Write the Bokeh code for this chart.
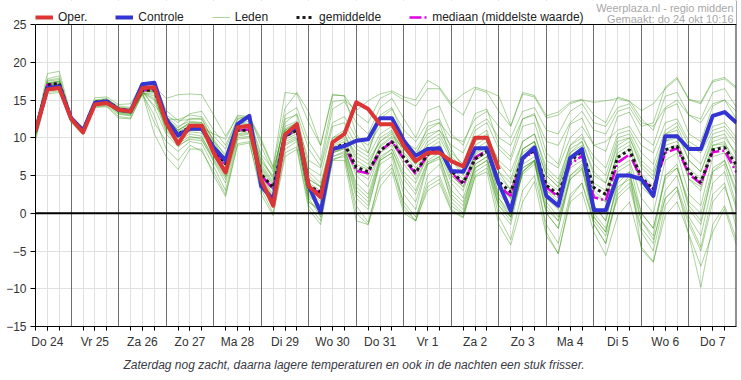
from bokeh.plotting import figure
from bokeh.models import (Range1d, FixedTicker, Grid, Span, Label, Legend, LegendItem,
                          BoxAnnotation, Title)
from bokeh.embed import file_html
from bokeh.resources import INLINE

# ---------------- data ----------------
# time axis: hours since Thu 24 Oct 00:00, 6-hourly from 06:00 to Fri 8 Nov 00:00
hours = list(range(6, 361, 6))
day_names = ["Do 24", "Vr 25", "Za 26", "Zo 27", "Ma 28", "Di 29", "Wo 30", "Do 31",
             "Vr 1", "Za 2", "Zo 3", "Ma 4", "Di 5", "Wo 6", "Do 7"]
y_ticks = [-15, -10, -5, 0, 5, 10, 15, 20, 25]

oper = [10.9, 16.4, 16.6, 12.5, 10.7, 14.4, 14.6, 13.7, 13.5, 16.6, 16.7, 12.0, 9.2, 11.6, 11.6,
        8.0, 5.4, 11.4, 11.6, 4.4, 1.0, 10.4, 11.8, 3.6, 2.1, 9.4, 10.5, 14.7, 13.8, 11.8, 11.8,
        8.9, 6.9, 8.0, 8.0, 6.9, 6.2, 10.0, 10.0, 5.8]

controle = [10.9, 16.6, 16.8, 12.6, 10.9, 14.6, 14.8, 13.7, 13.5, 17.1, 17.3, 12.5, 10.3, 11.2, 11.2,
            8.7, 7.0, 11.8, 12.9, 3.6, 1.8, 10.3, 11.6, 3.6, 0.1, 8.5, 8.9, 9.6, 9.8, 12.6, 12.6,
            9.6, 7.6, 8.5, 8.6, 5.6, 5.5, 8.6, 8.6, 3.9, 0.3, 7.3, 8.7, 2.3, 1.0, 7.3, 8.5,
            0.4, 0.4, 5.0, 5.0, 4.5, 2.3, 10.2, 10.2, 8.5, 8.5, 12.9, 13.4, 12.0]

gemiddelde = [10.9, 17.0, 17.2, 12.6, 11.0, 14.7, 14.9, 13.8, 13.6, 16.3, 16.3, 12.0, 10.5, 11.4, 11.2,
              8.5, 6.5, 11.0, 11.0, 5.2, 3.4, 10.2, 11.0, 3.6, 2.8, 8.5, 9.2, 6.1, 5.5, 8.3, 9.5,
              7.4, 5.4, 7.8, 8.6, 5.6, 4.0, 7.2, 8.2, 4.2, 2.8, 7.4, 8.3, 3.7, 2.5, 6.9, 8.2,
              3.4, 2.5, 7.4, 8.4, 4.7, 3.2, 8.4, 8.9, 5.5, 4.1, 8.4, 8.7, 6.4]

mediaan = [10.9, 17.0, 17.2, 12.6, 11.0, 14.7, 14.9, 13.8, 13.6, 16.3, 16.4, 12.1, 10.4, 11.4, 11.2,
           8.4, 6.3, 11.0, 11.1, 5.0, 3.2, 10.2, 11.0, 3.4, 2.7, 8.4, 9.0, 5.6, 5.3, 8.2, 9.5,
           7.2, 5.2, 7.8, 8.7, 5.4, 3.8, 7.4, 8.3, 3.6, 2.3, 7.2, 8.2, 3.4, 2.2, 6.5, 7.6,
           2.1, 1.7, 6.7, 7.8, 4.5, 3.2, 8.0, 8.6, 5.2, 3.9, 8.1, 8.3, 5.4]

# ensemble members (leden)
m01 = [11.2, 17.8, 18.2, 12.8, 11.3, 15.0, 15.2, 14.0, 13.9, 16.8, 16.9, 15.2, 15.7, 15.8, 15.7,
       13.0, 10.2, 12.8, 12.6, 9.5, 6.0, 13.9, 16.0, 13.4, 9.0, 15.6, 15.6, 13.2, 12.0, 15.2, 16.0,
       15.0, 14.2, 16.5, 16.5, 14.2, 13.0, 16.5, 16.0, 13.5, 11.5, 15.8, 15.4, 12.6, 13.0, 14.5, 15.0,
       14.7, 14.9, 15.2, 14.8, 13.6, 14.5, 16.5, 17.8, 15.0, 14.5, 17.4, 17.8, 16.5]
m02 = [10.6, 16.8, 17.0, 12.4, 10.8, 14.4, 14.7, 13.5, 13.2, 16.0, 14.3, 12.5, 12.4, 13.0, 12.8,
       10.2, 8.5, 12.5, 13.0, 8.8, 5.5, 12.0, 13.2, 8.5, 6.2, 13.8, 14.8, 12.0, 10.5, 14.0, 15.2,
       12.5, 10.0, 13.6, 14.2, 10.5, 9.0, 13.2, 13.8, 9.0, 7.5, 12.5, 13.2, 8.0, 6.5, 11.8, 12.6,
       9.0, 8.2, 12.8, 13.4, 10.2, 9.0, 13.8, 14.5, 10.5, 9.5, 14.2, 15.0, 12.5]
m03 = [10.2, 16.5, 16.8, 12.2, 10.5, 14.3, 14.5, 13.2, 13.0, 15.9, 15.8, 11.0, 9.5, 10.5, 10.2,
       7.0, 4.5, 10.2, 10.5, 3.5, 1.0, 9.8, 10.5, 1.5, 0.2, 7.5, 8.0, 2.0, 0.5, 7.0, 8.0,
       2.5, 0.5, 6.5, 7.2, 1.5, 0.0, 6.0, 7.0, 0.5, -1.5, 5.5, 6.8, 0.0, -2.0, 5.0, 6.2,
       -0.5, -2.5, 4.5, 5.5, -1.0, -3.0, 5.0, 6.5, 0.5, -1.5, 5.5, 6.5, 1.0]
m04 = [11.0, 17.2, 17.4, 12.7, 11.2, 14.9, 15.0, 13.9, 13.7, 16.5, 16.4, 12.6, 11.0, 12.0, 12.0,
       9.8, 7.5, 11.8, 12.2, 7.5, 4.5, 13.0, 14.0, 9.5, 7.0, 14.8, 15.0, 13.6, 14.9, 15.8, 16.2,
       15.4, 15.0, 17.6, 16.7, 14.5, 15.8, 16.7, 16.2, 15.5, 11.6, 16.0, 15.6, 12.9, 13.4, 14.7, 15.1,
       13.0, 12.0, 15.4, 14.9, 12.5, 11.0, 15.5, 16.0, 13.0, 12.5, 16.0, 16.5, 14.0]
m05 = [10.9, 17.1, 17.3, 12.6, 11.0, 14.6, 14.8, 13.8, 13.5, 16.2, 16.4, 12.3, 10.8, 11.6, 11.4,
       8.8, 6.8, 11.3, 11.5, 6.0, 3.8, 10.6, 11.4, 4.0, 3.0, 9.0, 9.8, 6.5, 5.8, 8.8, 10.0,
       7.8, 6.0, 8.2, 9.0, 6.0, 4.5, 7.8, 8.8, 4.8, 3.2, 8.0, 9.0, 4.2, 3.0, 7.5, 8.8,
       4.0, 3.0, 8.0, 9.0, 5.2, 3.6, 9.0, 9.5, 6.0, 4.5, 9.0, 9.2, 7.0]
m06 = [10.5, 16.2, 16.4, 12.3, 10.7, 14.2, 14.3, 13.1, 12.9, 15.9, 12.0, 9.5, 8.2, 9.5, 9.2,
       6.2, 3.0, 9.8, 10.0, 4.0, 1.5, 8.5, 9.5, 2.0, -0.5, 7.2, 7.5, 1.0, -1.2, 4.5, 6.0,
       1.5, -0.5, 4.0, 5.0, 1.0, -0.2, 5.5, 6.5, -0.5, -3.5, 3.0, 5.0, -1.5, -4.0, 2.5, 4.0,
       -1.0, -3.0, 2.0, 3.5, -2.5, -5.0, 2.0, 3.5, -1.0, -4.5, 2.5, 4.0, -2.0]
m07 = [11.3, 18.5, 18.8, 12.9, 11.4, 15.3, 15.4, 14.4, 14.5, 17.3, 17.4, 13.6, 12.3, 12.4, 12.6,
       9.5, 7.8, 12.0, 11.8, 6.5, 4.2, 11.0, 12.0, 5.5, 4.0, 10.0, 11.0, 8.5, 7.5, 10.5, 11.5,
       9.5, 8.0, 10.5, 11.0, 8.0, 6.5, 11.0, 12.0, 8.5, 7.0, 11.5, 12.0, 7.0, 6.0, 10.0, 11.5,
       9.0, 9.5, 11.0, 11.5, 9.0, 8.0, 12.0, 12.5, 9.5, 8.5, 11.5, 12.0, 10.0]
m08 = [10.7, 16.9, 17.0, 12.5, 10.9, 14.6, 14.7, 13.7, 13.5, 16.3, 16.2, 11.8, 10.2, 11.2, 11.0,
       8.0, 5.8, 11.0, 11.2, 5.0, 2.5, 10.5, 11.0, 3.0, 1.5, 8.0, 8.8, 3.5, 2.0, 7.2, 8.5,
       4.5, 2.5, 6.8, 7.5, 3.0, 1.5, 6.0, 7.0, 2.0, 0.0, 5.2, 6.5, 0.5, -1.0, 4.5, 5.8,
       0.0, -2.0, 3.5, 4.5, -1.0, -3.5, 2.0, 3.5, -3.0, -9.8, -1.5, 1.0, -3.5]
m09 = [10.4, 16.0, 16.2, 12.2, 10.6, 14.1, 14.2, 12.8, 12.6, 15.8, 10.5, 7.5, 5.8, 8.5, 8.5,
       5.0, 2.2, 9.0, 9.3, 3.2, 0.0, 8.0, 8.8, 1.0, -1.0, 7.0, 7.8, 0.0, -1.5, 5.0, 6.5,
       0.5, -1.0, 3.5, 4.5, 0.5, -0.5, 4.8, 5.5, -1.5, -4.2, 1.5, 4.2, -3.0, -5.3, 1.5, 2.8,
       -2.5, -5.6, -0.3, 1.5, -4.5, -6.4, -0.3, 1.5, -2.8, -7.0, -2.5, 0.6, -4.2]
m10 = [11.1, 17.5, 17.7, 12.7, 11.1, 14.8, 15.0, 14.0, 13.8, 16.5, 16.6, 12.8, 11.5, 12.2, 12.0,
       9.2, 7.2, 11.6, 11.8, 7.0, 5.0, 12.5, 13.0, 6.0, 5.0, 11.5, 12.0, 9.0, 8.0, 12.5, 13.8,
       11.0, 9.5, 12.0, 12.5, 8.5, 6.0, 9.5, 10.5, 6.5, 4.5, 9.5, 10.5, 6.0, 4.5, 9.0, 10.5,
       6.5, 5.0, 10.0, 10.5, 7.0, 5.5, 10.5, 11.5, 8.0, 6.5, 10.5, 11.0, 9.0]
m11 = [10.8, 16.7, 17.0, 12.5, 11.0, 14.7, 14.8, 13.6, 13.4, 16.1, 16.0, 12.0, 10.6, 11.5, 11.3,
       10.5, 9.8, 13.0, 12.8, 9.8, 6.2, 16.0, 15.8, 12.0, 9.0, 15.8, 15.5, 10.5, 8.0, 13.0, 14.0,
       10.0, 7.5, 11.5, 12.0, 7.0, 5.0, 10.0, 11.0, 5.5, 3.0, 8.5, 9.5, 5.0, 3.5, 8.5, 9.5,
       5.0, 4.0, 9.5, 10.0, 6.0, 4.5, 10.5, 11.0, 7.0, 5.5, 10.0, 10.5, 7.5]
m12 = [10.0, 16.3, 16.6, 12.3, 10.8, 14.4, 14.6, 13.4, 13.3, 16.2, 14.0, 10.5, 8.8, 10.0, 10.0,
       7.5, 5.0, 10.5, 10.8, 4.5, 2.0, 9.5, 10.2, 2.5, 1.0, 8.0, 8.5, 4.0, 2.5, 7.5, 8.5,
       5.0, 3.0, 7.0, 8.0, 4.0, 2.0, 7.0, 8.0, 2.5, 0.8, 6.5, 7.5, 1.5, -0.5, 6.0, 7.0,
       1.0, -1.0, 6.0, 7.0, 2.0, 0.0, 7.0, 8.0, 2.5, 1.0, 7.5, 8.0, 4.0]
m13 = [10.6, 16.6, 16.9, 12.4, 10.9, 14.5, 14.7, 13.5, 13.3, 16.0, 15.5, 11.2, 9.8, 10.8, 10.6,
       7.8, 5.5, 10.8, 11.0, 5.5, 3.0, 10.0, 10.8, 3.2, 2.0, 8.5, 9.0, 5.0, 3.5, 8.0, 9.0,
       5.5, 4.0, 7.5, 8.5, 4.5, 3.0, 7.5, 8.5, 2.0, -0.5, 5.5, 7.0, -2.5, -5.4, 2.0, 4.0,
       -1.5, -4.0, 3.0, 5.0, 0.0, -2.0, 4.5, 6.0, 1.0, -1.0, 5.5, 7.0, 2.5]
m14 = [11.0, 17.0, 17.2, 12.6, 11.1, 14.7, 14.9, 13.8, 13.6, 16.4, 16.3, 12.2, 11.0, 11.8, 11.7,
       9.0, 7.0, 11.4, 11.6, 6.8, 4.8, 11.2, 12.0, 7.0, 6.0, 12.0, 12.8, 10.0, 9.0, 11.5, 12.0,
       9.5, 8.5, 11.0, 12.0, 10.0, 9.5, 12.5, 13.5, 11.5, 10.0, 13.5, 14.0, 11.0, 10.5, 13.5, 14.5,
       12.0, 11.5, 14.0, 14.5, 12.0, 11.5, 14.0, 15.0, 13.0, 12.0, 14.5, 15.0, 13.5]
m15 = [9.6, 15.8, 16.0, 12.0, 10.4, 14.0, 14.1, 12.6, 12.5, 15.8, 13.0, 8.5, 7.0, 9.0, 8.2,
       5.5, 2.5, 9.2, 9.5, 2.5, -0.3, 7.5, 8.5, 0.5, -1.5, 7.0, 7.0, -1.0, -1.5, 3.5, 5.5,
       0.0, -1.0, 3.0, 4.0, 0.3, -0.6, 5.0, 6.0, 1.0, -0.5, 6.0, 7.0, 2.0, 0.5, 6.5, 7.5,
       1.0, -1.0, 5.5, 6.5, 0.0, -2.0, 5.0, 6.0, 1.5, 0.0, 6.0, 7.0, 3.0]
m16 = [11.4, 17.6, 17.9, 12.8, 11.2, 14.9, 15.1, 14.2, 14.0, 16.7, 16.6, 13.0, 12.0, 13.2, 13.5,
       11.0, 9.0, 12.5, 12.5, 7.8, 5.8, 11.5, 12.2, 5.0, 3.5, 10.0, 10.5, 7.0, 6.0, 10.0, 11.0,
       8.0, 6.5, 9.5, 10.5, 7.5, 6.0, 9.0, 10.0, 7.0, 5.5, 9.5, 10.5, 5.5, 4.0, 9.0, 10.0,
       7.5, 6.0, 10.5, 11.0, 8.0, 6.5, 11.0, 12.0, 9.0, 8.0, 11.0, 11.5, 9.5]
m17 = [10.3, 16.4, 16.7, 12.3, 10.7, 14.3, 14.5, 13.3, 13.1, 15.9, 15.0, 10.8, 9.2, 10.2, 9.8,
       6.8, 4.0, 10.0, 10.2, 4.2, 1.8, 9.0, 9.8, 1.5, 0.5, 7.5, 8.2, 2.5, 1.0, 6.5, 7.5,
       1.0, -1.0, 5.0, 6.5, 2.0, 0.5, 6.5, 7.5, 1.0, -1.0, 6.0, 7.0, 0.0, -2.0, 4.5, 6.0,
       -1.5, -4.0, 2.5, 4.0, -2.0, -4.0, 3.0, 5.0, -0.5, -3.0, 4.0, 5.5, 0.5]
m18 = [10.9, 16.9, 17.1, 12.6, 11.0, 14.6, 14.8, 13.7, 13.5, 16.2, 16.1, 12.4, 11.3, 12.6, 12.4,
       9.5, 7.0, 11.0, 11.2, 5.8, 3.5, 10.8, 11.6, 4.5, 3.5, 9.5, 10.5, 7.5, 6.5, 9.5, 10.8,
       7.0, 5.0, 8.5, 9.5, 5.0, 3.5, 8.0, 9.0, 3.5, 2.0, 8.5, 9.5, 3.0, 1.5, 8.0, 9.0,
       3.0, 1.5, 8.5, 9.5, 4.0, 2.5, 9.5, 10.0, 4.5, 3.0, 9.0, 9.5, 6.0]
m19 = [10.7, 17.3, 17.5, 12.6, 11.1, 14.8, 15.0, 13.9, 13.7, 16.4, 16.5, 12.1, 10.4, 11.0, 11.0,
       8.5, 6.0, 10.8, 11.0, 5.2, 3.2, 10.2, 11.0, 3.8, 2.5, 8.8, 9.5, 6.0, 5.0, 9.0, 10.2,
       8.5, 7.5, 10.0, 11.0, 9.0, 8.0, 11.5, 12.5, 10.0, 9.0, 12.5, 13.0, 9.5, 9.0, 12.0, 13.5,
       11.0, 10.5, 13.5, 14.0, 11.5, 12.0, 16.7, 18.0, 15.1, 14.7, 17.6, 18.0, 16.7]
m20 = [10.5, 16.6, 16.8, 12.4, 10.8, 14.5, 14.6, 13.4, 13.2, 16.0, 15.2, 11.5, 9.0, 9.8, 9.6,
       7.2, 4.8, 10.4, 10.6, 4.8, 2.2, 9.2, 10.0, 2.2, 1.0, 8.0, 8.6, 3.0, 1.5, 7.0, 8.0,
       3.5, 1.5, 6.5, 7.5, 2.5, 1.0, 6.5, 7.5, 1.5, -0.5, 5.5, 7.0, 1.0, -1.0, 5.0, 6.5,
       -0.5, -2.5, 4.0, 5.5, -4.8, -6.5, 1.0, 3.0, -1.5, -5.0, 1.5, 3.5, -1.0]
m21 = [10.8, 17.0, 17.1, 12.5, 10.9, 14.6, 14.8, 13.6, 13.4, 16.1, 16.2, 12.0, 10.0, 11.0, 11.0,
       8.6, 6.3, 11.0, 11.0, 5.5, 3.0, 10.0, 11.0, 3.0, 2.0, 8.2, 9.0, 5.5, 4.5, 8.0, 9.5,
       6.5, 4.5, 7.5, 8.5, 5.0, 3.5, 7.0, 8.0, 3.5, 2.0, 7.5, 8.5, 3.0, 2.0, 7.0, 8.0,
       2.5, 1.5, 7.5, 8.5, 3.5, 2.0, 8.5, 9.0, 4.5, 3.5, 8.5, 9.0, 5.5]
m22 = [11.0, 17.2, 17.5, 12.7, 11.1, 14.7, 14.9, 13.9, 13.6, 16.4, 16.5, 12.5, 11.0, 12.0, 11.8,
       9.0, 7.0, 11.5, 11.6, 6.2, 4.0, 11.0, 11.8, 4.5, 3.5, 9.5, 10.0, 8.0, 7.0, 9.5, 10.5,
       8.5, 6.5, 9.0, 10.0, 7.0, 5.5, 8.5, 9.5, 5.5, 4.0, 8.5, 9.5, 5.0, 3.5, 8.0, 9.5,
       5.5, 4.0, 9.0, 10.0, 6.5, 5.0, 9.5, 10.5, 7.0, 5.5, 9.5, 10.0, 8.0]

leden = [m01, m02, m03, m04, m05, m06, m07, m08, m09, m10, m11,
         m12, m13, m14, m15, m16, m17, m18, m19, m20, m21, m22]

# ---------------- figure ----------------
FONT = "Liberation Sans"
Y_TOP_SPACE = 28.18   # frame reaches above 25 so the legend row can sit inside it

p = figure(width=738, height=376, output_backend="svg", toolbar_location=None,
           x_range=Range1d(6, 360), y_range=Range1d(-15, Y_TOP_SPACE),
           min_border_left=35, min_border_right=2, min_border_top=0, min_border_bottom=50)
p.background_fill_color = "white"
p.border_fill_color = "white"
p.outline_line_color = None

noons = [12 + 24 * d for d in range(len(day_names))]
midnights = [24 * d for d in range(1, 15)]
six_hourly = [h for h in range(6, 361, 6) if h % 24 != 0]

# grids
p.xgrid.ticker = FixedTicker(ticks=six_hourly)
p.xgrid.grid_line_color = "#e0e0e0"
p.xgrid.grid_line_width = 1
p.ygrid.ticker = FixedTicker(ticks=y_ticks)
p.ygrid.grid_line_color = "#e0e0e0"
p.ygrid.grid_line_width = 1
day_grid = Grid(dimension=0, ticker=FixedTicker(ticks=midnights),
                grid_line_color="#6e6e6e", grid_line_width=1)
p.add_layout(day_grid)

# axes
p.xaxis.ticker = FixedTicker(ticks=noons, minor_ticks=six_hourly)
p.xaxis.major_label_overrides = {n: lab for n, lab in zip(noons, day_names)}
p.yaxis.ticker = FixedTicker(ticks=y_ticks)
p.yaxis.bounds = (-15, 25)
for ax in (p.xaxis[0], p.yaxis[0]):
    ax.axis_line_color = "black"
    ax.axis_line_width = 1
    ax.major_tick_line_color = "black"
    ax.minor_tick_line_color = "black"
    ax.major_tick_in = 0
    ax.minor_tick_in = 0
    ax.major_label_text_font = FONT
    ax.major_label_text_font_size = "12px"
    ax.major_label_text_color = "#333333"
p.xaxis.major_tick_out = 4
p.xaxis.minor_tick_out = 4
p.xaxis.major_label_standoff = 4
p.yaxis.major_tick_out = 5
p.yaxis.minor_tick_out = 0
p.yaxis.major_label_standoff = 4

# ensemble members
r_leden = p.multi_line(xs=[hours] * len(leden), ys=leden,
                       line_color="#2c9205", line_alpha=0.4, line_width=1)
# median, mean, control, operational
r_med = p.line(hours, mediaan, line_color="#e000e0", line_width=2.5, line_dash="12 3 2 3")
r_mean = p.line(hours, gemiddelde, line_color="#1a1a1a", line_width=3, line_dash="3 3")
r_ctrl = p.line(hours, controle, line_color="#3434d2", line_width=4, line_join="round")
r_oper = p.line(hours[:len(oper)], oper, line_color="#dc3535", line_width=4, line_join="round")

# right border (its part above 25 is hidden by the white header box)
p.add_layout(Span(location=360, dimension="height", line_color="#222222", line_width=2))
# white header band above the 25 line
p.add_layout(BoxAnnotation(bottom=25, fill_color="white", fill_alpha=1.0,
                           line_color=None, line_alpha=0))
# top border and zero line
p.add_layout(Span(location=25, dimension="width", line_color="black", line_width=1))
p.add_layout(Span(location=0, dimension="width", line_color="black", line_width=2))

# legend in the header band
legend = Legend(items=[LegendItem(label="Oper.", renderers=[r_oper]),
                       LegendItem(label="Controle", renderers=[r_ctrl]),
                       LegendItem(label="Leden", renderers=[r_leden]),
                       LegendItem(label="gemiddelde", renderers=[r_mean]),
                       LegendItem(label="mediaan (middelste waarde)", renderers=[r_med])],
                location=(0, 302), orientation="horizontal",
                glyph_width=18, glyph_height=14, label_height=14, label_standoff=5,
                spacing=28, padding=0, margin=0,
                border_line_color=None, background_fill_alpha=0,
                label_text_font=FONT, label_text_font_size="12px", label_text_color="#222222")
p.add_layout(legend)

# source / creation texts (top right)
p.add_layout(Label(x=698, y=319, x_units="screen", y_units="screen",
                   text="Weerplaza.nl - regio midden", text_align="right", text_baseline="middle",
                   text_font=FONT, text_font_size="11px", text_color="#a8a8a8"))
p.add_layout(Label(x=698, y=308, x_units="screen", y_units="screen",
                   text="Gemaakt: do 24 okt 10:16", text_align="right", text_baseline="middle",
                   text_font=FONT, text_font_size="11px", text_color="#a8a8a8"))

# caption below the axis
caption = Title(text="Zaterdag nog zacht, daarna lagere temperaturen en ook in de nachten een stuk frisser.",
                align="left", offset=88, standoff=8,
                text_font=FONT, text_font_size="12px", text_font_style="italic",
                text_color="#3a3a44")
p.add_layout(caption, "below")

open("out.html", "w").write(file_html(p, INLINE))
